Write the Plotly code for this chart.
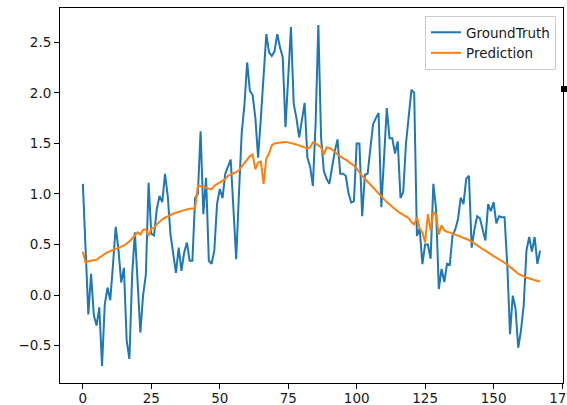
import plotly.graph_objects as go

ground_truth = [
    1.10, 0.45, -0.19, 0.21, -0.20, -0.30, -0.12, -0.70, -0.09, 0.075,
    -0.05, 0.30, 0.675, 0.45, 0.125, 0.27, -0.45, -0.63, 0.20, 0.62,
    0.15, -0.37, 0.00, 0.20, 1.11, 0.605, 0.59, 0.85, 0.98, 0.92,
    1.20, 0.98, 0.60, 0.42, 0.22, 0.47, 0.24, 0.42, 0.52, 0.34,
    0.34, 0.96, 1.00, 1.62, 0.80, 1.16, 0.34, 0.31, 0.44, 0.90,
    1.05, 0.96, 1.20, 1.27, 1.34, 0.85, 0.355, 1.00, 1.60, 1.88,
    2.30, 2.02, 1.98, 1.75, 1.36, 1.75, 2.15, 2.58, 2.40, 2.365,
    2.41, 2.58, 2.45, 2.35, 1.66, 2.10, 2.65, 1.89, 1.75, 1.56,
    1.75, 1.90, 1.36, 1.27, 1.08, 1.70, 2.67, 1.56, 1.23, 1.15,
    1.10, 1.28, 1.42, 1.54, 1.20, 1.20, 1.18, 1.01, 0.915, 0.93,
    1.50, 1.50, 0.78, 1.19, 1.20, 1.45, 1.69, 1.75, 1.80, 0.87,
    1.40, 1.85, 1.55, 1.55, 1.40, 1.52, 0.96, 1.02, 1.50, 1.80,
    2.03, 2.00, 0.586, 0.66, 0.306, 0.50, 0.50, 0.36, 1.10, 0.85,
    0.06, 0.26, 0.13, 0.31, 0.30, 0.59, 0.65, 0.75, 0.965, 0.90,
    1.15, 1.18, 0.47, 0.65, 0.78, 0.76, 0.65, 0.54, 0.90, 0.83,
    0.92, 0.71, 0.78, 0.77, 0.77, 0.30, -0.385, -0.005, -0.13, -0.52,
    -0.35, -0.10, 0.44, 0.575, 0.43, 0.575, 0.31, 0.44,
]

prediction = [
    0.43, 0.32, 0.335, 0.34, 0.345, 0.35, 0.37, 0.39, 0.41, 0.425,
    0.435, 0.445, 0.46, 0.47, 0.48, 0.49, 0.51, 0.53, 0.56, 0.59,
    0.62, 0.60, 0.645, 0.65, 0.585, 0.66, 0.665, 0.70, 0.73, 0.75,
    0.765, 0.78, 0.795, 0.805, 0.815, 0.825, 0.835, 0.84, 0.848, 0.853,
    0.857, 0.86, 1.08, 1.08, 1.075, 1.06, 1.05, 1.045, 1.08, 1.10,
    1.115, 1.13, 1.15, 1.18, 1.195, 1.205, 1.215, 1.235, 1.27, 1.31,
    1.34, 1.375, 1.39, 1.245, 1.31, 1.32, 1.10, 1.35, 1.40, 1.48,
    1.50, 1.505, 1.51, 1.515, 1.515, 1.51, 1.505, 1.50, 1.49, 1.48,
    1.47, 1.46, 1.45, 1.46, 1.51, 1.50, 1.48, 1.46, 1.39, 1.46,
    1.455, 1.44, 1.42, 1.39, 1.37, 1.355, 1.34, 1.32, 1.30, 1.28,
    1.25, 1.21, 1.18, 1.15, 1.12, 1.09, 1.06, 1.03, 1.00, 0.97,
    0.945, 0.92, 0.895, 0.87, 0.85, 0.83, 0.81, 0.795, 0.78, 0.76,
    0.72, 0.70, 0.77, 0.66, 0.62, 0.52, 0.80, 0.64, 0.82, 0.79,
    0.60, 0.69, 0.64, 0.625, 0.62, 0.61, 0.60, 0.59, 0.58, 0.57,
    0.56, 0.545, 0.53, 0.51, 0.49, 0.47, 0.455, 0.44, 0.42, 0.40,
    0.385, 0.37, 0.355, 0.34, 0.32, 0.30, 0.28, 0.255, 0.235, 0.21,
    0.195, 0.185, 0.175, 0.165, 0.155, 0.145, 0.14, 0.135,
]

x_values = list(range(len(ground_truth)))
x_ticks = [0, 25, 50, 75, 100, 125, 150, 175]
y_ticks = [-0.5, 0.0, 0.5, 1.0, 1.5, 2.0, 2.5]

W, H = 567, 405
ML, MR, MT, MB = 60, 4, 8, 22

xmin, xmax = min(x_values), max(x_values)
xpad = 0.05 * (xmax - xmin)
allv = ground_truth + prediction
ymin, ymax = min(allv), max(allv)
ypad = 0.05 * (ymax - ymin)

font = dict(family="DejaVu Sans", size=13.5, color="#1a1a1a")

fig = go.Figure()
fig.add_trace(go.Scatter(x=x_values, y=ground_truth, mode="lines", name="GroundTruth",
                         line=dict(color="#1f77b4", width=2)))
fig.add_trace(go.Scatter(x=x_values, y=prediction, mode="lines", name="Prediction",
                         line=dict(color="#ff7f0e", width=2)))

axis_common = dict(showgrid=False, zeroline=False, showline=True, linecolor="black",
                   linewidth=1, mirror=True, ticks="outside", ticklen=5, tickwidth=1,
                   tickcolor="black", tickfont=font, automargin=False,
                   ticklabeloverflow="allow")

fig.update_xaxes(range=[xmin - xpad, xmax + xpad], tickmode="array", tickvals=x_ticks,
                 ticktext=[str(t) for t in x_ticks], ticklabelstandoff=-2, **axis_common)
fig.update_yaxes(range=[ymin - ypad, ymax + ypad], tickmode="array", tickvals=y_ticks,
                 ticktext=[f"{t:.1f}".replace("-", "\u2212") for t in y_ticks], **axis_common)

pw = W - ML - MR
ph = H - MT - MB
fig.update_layout(
    width=W, height=H,
    margin=dict(l=ML, r=MR, t=MT, b=MB, pad=0, autoexpand=False),
    plot_bgcolor="white", paper_bgcolor="white",
    font=font,
    showlegend=True,
    legend=dict(x=(556 - ML) / pw, y=1 - (16 - MT) / ph, xanchor="right", yanchor="top",
                bgcolor="rgba(255,255,255,0.8)", bordercolor="#cccccc", borderwidth=1,
                font=font, tracegroupgap=0, itemwidth=30),
    shapes=[dict(type="rect", xref="paper", yref="paper",
                 x0=(561 - ML) / pw, x1=(567 - ML) / pw,
                 y0=1 - (92 - MT) / ph, y1=1 - (86 - MT) / ph,
                 fillcolor="black", line=dict(width=0))],
)

fig.write_html("out.html")
